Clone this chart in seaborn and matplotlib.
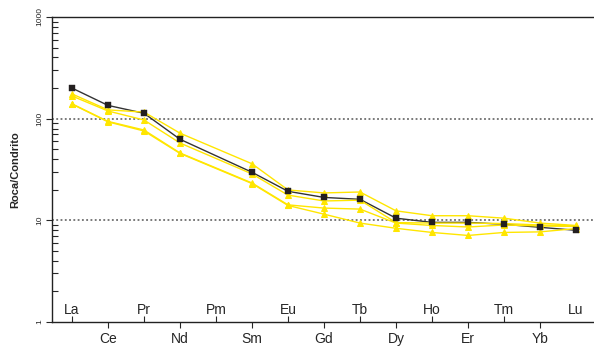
import numpy as np
import pandas as pd
import matplotlib
matplotlib.use("Agg")
import matplotlib.pyplot as plt
import matplotlib.transforms as mtransforms
import seaborn as sns

# ---- data ----
elements = ["La", "Ce", "Pr", "Nd", "Pm", "Sm", "Eu", "Gd", "Tb", "Dy", "Ho", "Er", "Tm", "Yb", "Lu"]
measured = ["La", "Ce", "Pr", "Nd", "Sm", "Eu", "Gd", "Tb", "Dy", "Ho", "Er", "Tm", "Yb", "Lu"]

black_sample = [200, 135, 113, 62.7, 29.7, 19.3, 16.8, 16.1, 10.5, 9.55, 9.55, 9.14, 8.54, 7.98]
yellow_1 = [175, 122, 116, 72, 36, 19.9, 18.6, 19.0, 12.4, 11.1, 11.1, 10.5, 9.4, 8.9]
yellow_2 = [167, 119, 97, 57.6, 28.6, 17.7, 15.5, 15.8, 9.5, 9.4, 9.4, 9.3, 9.0, 8.8]
yellow_3 = [140, 94, 77.3, 46, 23.3, 14.2, 13.2, 12.9, 9.4, 8.9, 8.6, 9.0, 8.8, 8.7]
yellow_4 = [139, 93, 75.6, 45.5, 23.0, 14.0, 11.5, 9.4, 8.35, 7.6, 7.1, 7.6, 7.7, 8.3]

y_ticks = [1, 10, 100, 1000]
y_ticklabels = ["1", "10", "100", "1000"]
ref_lines = [10, 100]

# ---- build long-form table ----
xpos = [elements.index(e) for e in measured]
rows = []
for name, vals in [("Y1", yellow_1), ("Y2", yellow_2), ("Y3", yellow_3), ("Y4", yellow_4)]:
    for x, v in zip(xpos, vals):
        rows.append({"x": x, "value": v, "sample": name})
df_y = pd.DataFrame(rows)
df_b = pd.DataFrame({"x": xpos, "value": black_sample, "sample": "B"})

sns.set_style("ticks")
plt.rcParams["font.family"] = ["Liberation Sans", "DejaVu Sans"]

fig = plt.figure(figsize=(5.94, 3.46), dpi=100)
ax = fig.add_axes([52 / 594, 24 / 346, 542 / 594, 305 / 346])

YEL = "#FFE600"
for lv in ref_lines:
    ax.axhline(lv, color="#555555", lw=1.1, ls=(0, (1.2, 1.6)), zorder=1)

sns.lineplot(data=df_b, x="x", y="value", color="#333333", lw=1.0,
             estimator=None, sort=False, ax=ax, legend=False, zorder=2)
sns.lineplot(data=df_y, x="x", y="value", hue="sample", units="sample",
             palette=[YEL] * 4, lw=1.0, marker="^", markersize=4.5,
             markeredgecolor=YEL, markerfacecolor=YEL,
             estimator=None, sort=False, ax=ax, legend=False, zorder=3)
sns.scatterplot(data=df_b, x="x", y="value", color="#231F20", marker="s", s=20,
                edgecolor="#231F20", linewidth=0.3, ax=ax, legend=False, zorder=4)

ax.set_yscale("log")
ax.set_ylim(1, 1000)
ax.set_xlim(-0.556, 14.5)

# y ticks
ax.set_yticks(y_ticks)
ax.set_yticklabels(y_ticklabels, rotation=90, va="center", fontsize=6)
ax.yaxis.set_minor_locator(matplotlib.ticker.LogLocator(base=10, subs=np.arange(2, 10)))
ax.yaxis.set_minor_formatter(matplotlib.ticker.NullFormatter())
ax.tick_params(axis="y", which="major", direction="out", length=4, width=0.8, pad=2)
ax.tick_params(axis="y", which="minor", direction="in", length=4, width=0.8)

# x ticks: lower row outside, upper row inside
low_idx = [i for i in range(len(elements)) if i % 2 == 1]
up_idx = [i for i in range(len(elements)) if i % 2 == 0]
ax.set_xticks(low_idx)
ax.set_xticklabels([elements[i] for i in low_idx], fontsize=10)
ax.tick_params(axis="x", which="major", direction="out", length=4, width=0.8, pad=3)
ax.set_xticks([i for i in up_idx if elements[i] != "Lu"], minor=True)
ax.tick_params(axis="x", which="minor", direction="in", length=4, width=0.8)
trans = mtransforms.blended_transform_factory(ax.transData, ax.transAxes)
for i in up_idx:
    ax.text(i, 0.04, elements[i], transform=trans, ha="center", va="center", fontsize=10)

ax.set_xlabel("")
ax.set_ylabel("Roca/Condrito", fontsize=8, fontweight="bold", labelpad=12)

for side in ["left", "bottom", "top"]:
    ax.spines[side].set_visible(True)
    ax.spines[side].set_linewidth(1.0)
    ax.spines[side].set_color("#222222")
ax.spines["right"].set_visible(False)

fig.savefig("out.png", dpi=100)
